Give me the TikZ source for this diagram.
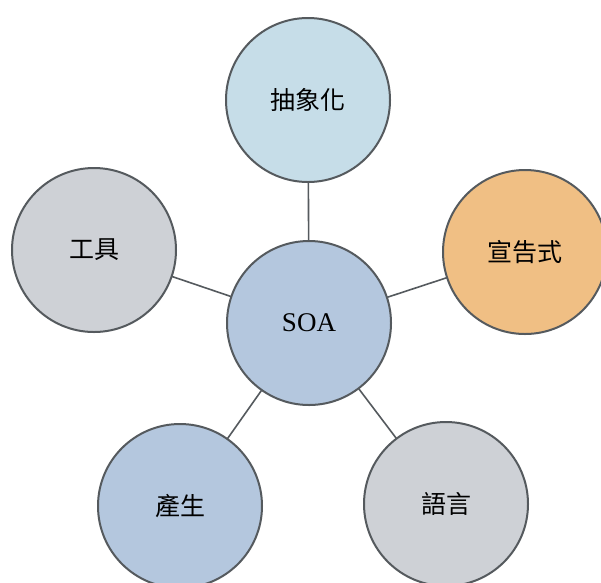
\documentclass[tikz,border=0pt]{standalone}
\usepackage{fontspec}
\setmainfont{Liberation Serif}
\newfontfamily\cjk{Noto Sans CJK TC}
\definecolor{cblue}{HTML}{B4C7DE}
\definecolor{clight}{HTML}{C6DDE8}
\definecolor{corange}{HTML}{F0BF84}
\definecolor{cgray}{HTML}{CED1D6}
\definecolor{cedge}{HTML}{555A5E}
\begin{document}
\begin{tikzpicture}[x=1pt,y=-1pt,
  bub/.style={circle,draw=cedge,line width=2pt,minimum size=164pt,inner sep=0pt,font=\fontsize{25}{28}\selectfont\cjk},
  link/.style={draw=cedge,line width=1.6pt}]
\useasboundingbox[fill=white] (0,0) rectangle (601,582);
\coordinate (cS) at (309,323);
\coordinate (cT) at (308,100);
\coordinate (cR) at (525,252);
\coordinate (cL) at (94,250);
\coordinate (cBL) at (180,506);
\coordinate (cBR) at (446,504);
\draw[link] (cS) -- (cT);
\draw[link] (cS) -- (cR);
\draw[link] (cS) -- (cL);
\draw[link] (cS) -- (cBL);
\draw[link] (cS) -- (cBR);
\node[bub,fill=cblue,font=\fontsize{27}{30}\selectfont] (soa) at (cS) {SOA};
\node[bub,fill=clight] (abs) at (cT) {抽象化};
\node[bub,fill=corange] (dec) at (cR) {宣告式};
\node[bub,fill=cgray] (tool) at (cL) {工具};
\node[bub,fill=cblue] (gen) at (cBL) {產生};
\node[bub,fill=cgray] (lang) at (cBR) {語言};
\end{tikzpicture}
\end{document}
